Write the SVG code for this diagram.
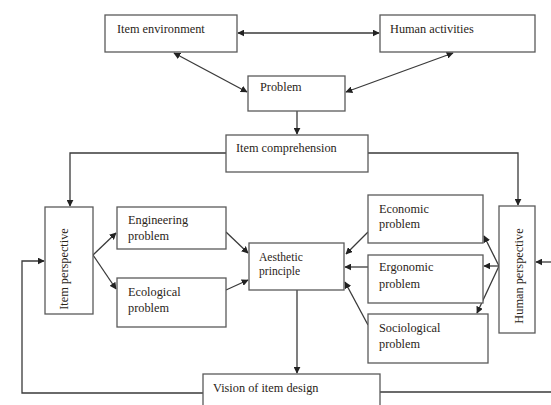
<svg xmlns="http://www.w3.org/2000/svg" width="551" height="405" viewBox="0 0 551 405">
<defs>
<marker id="ah" viewBox="0 0 10 10" refX="9" refY="5" markerWidth="7" markerHeight="7" orient="auto-start-reverse" markerUnits="userSpaceOnUse">
<path d="M0,0 L10,5 L0,10 z" fill="#222"/>
</marker>
<style>
.box{fill:#fff;stroke:#5a5a5a;stroke-width:1.3}
.t{font-family:"Liberation Serif","Times New Roman",serif;font-size:12.3px;fill:#2a2418}
.c{fill:none;stroke:#3a3a3a;stroke-width:1.3}
.a{marker-end:url(#ah)}
.d{marker-start:url(#ah);marker-end:url(#ah)}
</style>
</defs>
<rect width="551" height="405" fill="#fff"/>
<g id="connectors">
<line class="c d" x1="238" y1="33" x2="379" y2="33"/>
<line class="c d" x1="174" y1="53" x2="247" y2="92"/>
<line class="c d" x1="453" y1="53" x2="346" y2="92"/>
<line class="c a" x1="297" y1="111" x2="297" y2="134"/>
<polyline class="c a" points="226,153 70,153 70,206"/>
<polyline class="c a" points="368,153 518,153 518,205"/>
<line class="c a" x1="93" y1="255" x2="116" y2="233"/>
<line class="c a" x1="93" y1="255" x2="116" y2="289"/>
<line class="c a" x1="226" y1="232" x2="248" y2="253"/>
<line class="c a" x1="226" y1="290" x2="248" y2="280"/>
<line class="c a" x1="368" y1="232" x2="346" y2="254"/>
<line class="c a" x1="368" y1="267" x2="345" y2="267"/>
<line class="c a" x1="368" y1="325" x2="345" y2="282"/>
<line class="c a" x1="499" y1="266" x2="484" y2="236"/>
<line class="c a" x1="499" y1="266" x2="484" y2="266"/>
<line class="c a" x1="499" y1="266" x2="477" y2="313"/>
<line class="c a" x1="551" y1="262" x2="536" y2="262"/>
<line class="c a" x1="297" y1="290" x2="297" y2="373"/>
<polyline class="c a" points="203,393 22,393 22,261 44,261"/>
<line class="c" x1="380" y1="392" x2="551" y2="392"/>
</g>
<g id="item-environment">
<rect class="box" x="105" y="15" width="132" height="37"/>
<text class="t" x="117" y="33">Item environment</text>
</g>
<g id="human-activities">
<rect class="box" x="380" y="15" width="155" height="37"/>
<text class="t" x="390" y="33">Human activities</text>
</g>
<g id="problem">
<rect class="box" x="248" y="76" width="97" height="35"/>
<text class="t" x="260" y="91">Problem</text>
</g>
<g id="item-comprehension">
<rect class="box" x="226" y="135" width="142" height="37"/>
<text class="t" x="236" y="152">Item comprehension</text>
</g>
<g id="item-perspective">
<rect class="box" x="45" y="207" width="48" height="107"/>
<text class="t" transform="translate(68,269) rotate(-90)" text-anchor="middle">Item perspective</text>
</g>
<g id="human-perspective">
<rect class="box" x="499" y="206" width="36" height="127"/>
<text class="t" transform="translate(523,276) rotate(-90)" text-anchor="middle">Human perspective</text>
</g>
<g id="engineering-problem">
<rect class="box" x="117" y="207" width="109" height="42"/>
<text class="t" x="128" y="224">Engineering</text>
<text class="t" x="128" y="240">problem</text>
</g>
<g id="ecological-problem">
<rect class="box" x="117" y="278" width="109" height="49"/>
<text class="t" x="128" y="296">Ecological</text>
<text class="t" x="128" y="312">problem</text>
</g>
<g id="aesthetic-principle">
<rect class="box" x="249" y="243" width="95" height="47"/>
<text class="t" x="259" y="261" style="font-size:11.6px">Aesthetic</text>
<text class="t" x="259" y="275" style="font-size:11.6px">principle</text>
</g>
<g id="economic-problem">
<rect class="box" x="368" y="195" width="115" height="48"/>
<text class="t" x="379" y="213">Economic</text>
<text class="t" x="379" y="228">problem</text>
</g>
<g id="ergonomic-problem">
<rect class="box" x="368" y="255" width="115" height="48"/>
<text class="t" x="379" y="271">Ergonomic</text>
<text class="t" x="379" y="288">problem</text>
</g>
<g id="sociological-problem">
<rect class="box" x="368" y="314" width="120" height="49"/>
<text class="t" x="379" y="332">Sociological</text>
<text class="t" x="379" y="348">problem</text>
</g>
<g id="vision-of-item-design">
<rect class="box" x="203" y="374" width="177" height="40"/>
<text class="t" x="213" y="392">Vision of item design</text>
</g>
</svg>
